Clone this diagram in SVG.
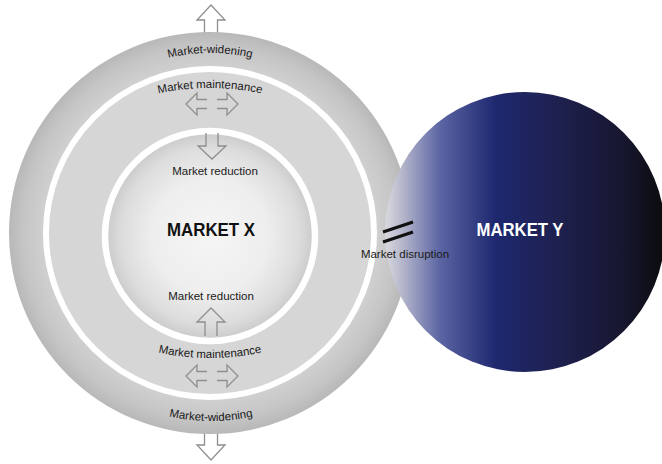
<svg xmlns="http://www.w3.org/2000/svg" width="662" height="464" viewBox="0 0 662 464">
  <defs>
    <radialGradient id="outerGrad" gradientUnits="userSpaceOnUse" cx="210" cy="233" r="201">
      <stop offset="0.8" stop-color="#d3d3d3"/>
      <stop offset="0.93" stop-color="#c5c5c5"/>
      <stop offset="1" stop-color="#b8b8b8"/>
    </radialGradient>
    <radialGradient id="innerGrad" gradientUnits="userSpaceOnUse" cx="210" cy="236" r="105">
      <stop offset="0" stop-color="#f5f5f5"/>
      <stop offset="0.55" stop-color="#eeeeee"/>
      <stop offset="0.85" stop-color="#dcdcdc"/>
      <stop offset="1" stop-color="#c9c9c9"/>
    </radialGradient>
    <linearGradient id="yGrad" gradientUnits="userSpaceOnUse" x1="385" y1="0" x2="662" y2="0">
      <stop offset="0" stop-color="#dadadf"/>
      <stop offset="0.07" stop-color="#b0b2c9"/>
      <stop offset="0.2" stop-color="#5b64a3"/>
      <stop offset="0.4" stop-color="#1d286f"/>
      <stop offset="0.6" stop-color="#1f2152"/>
      <stop offset="0.85" stop-color="#171731"/>
      <stop offset="1" stop-color="#0c0c10"/>
    </linearGradient>
    <path id="arcTopW" d="M30,233 A180,180 0 0 1 390,233"/>
    <path id="arcTopM" d="M-40,338 A250,250 0 0 1 460,338"/>
    <path id="arcBotM" d="M-40,108 A250,250 0 0 0 460,108"/>
    <path id="arcBotW" d="M11,221 A200,200 0 0 0 411,221"/>
    <style>
      .lbl { font-family: "Liberation Sans", Arial, sans-serif; font-size: 11.5px; fill: #1a1a1a; }
      .big { font-family: "Liberation Sans", Arial, sans-serif; font-size: 18px; font-weight: bold; }
      .arr { fill: none; stroke: #8e8e8e; stroke-width: 1.3; stroke-linejoin: miter; }
      .arrw { fill: #ffffff; stroke: #8e8e8e; stroke-width: 1.3; }
    </style>
  </defs>

  <g id="arrows-outer">
    <path class="arrw" d="M204.5,38 V20 H197 L211,5 L225,20 H217.5 V38"/>
    <path class="arrw" d="M204.5,430 V445 H197 L211,460 L225,445 H217.5 V430"/>
  </g>

  <g id="market-x">
    <circle cx="210" cy="233" r="201" fill="url(#outerGrad)"/>
    <circle cx="210" cy="233" r="164" fill="#d6d6d6" stroke="#ffffff" stroke-width="6"/>
    <circle cx="210" cy="236" r="105" fill="url(#innerGrad)" stroke="#ffffff" stroke-width="6.5"/>
    <text class="big" x="211" y="236" text-anchor="middle" fill="#111111" textLength="88" lengthAdjust="spacingAndGlyphs">MARKET X</text>
  </g>

  <g id="market-y">
    <circle cx="525" cy="232" r="140" fill="url(#yGrad)"/>
    <text class="big" x="520" y="236" text-anchor="middle" fill="#ffffff" textLength="87" lengthAdjust="spacingAndGlyphs">MARKET Y</text>
  </g>

  <g id="connectors">
    <path class="arr" d="M206,133 V146 H198 L212,159 L226,146 H218 V133"/>
    <path class="arr" d="M205,336 V322 H197 L211,308 L225,322 H217 V336"/>
    <path class="arr" d="M207,99.5 H197 V93 L186,104 L197,115 V108.5 H207"/>
    <path class="arr" d="M217,99.5 H227 V93 L238,104 L227,115 V108.5 H217"/>
    <path class="arr" d="M207,371.5 H197 V365 L186,376 L197,387 V380.5 H207"/>
    <path class="arr" d="M217,371.5 H227 V365 L238,376 L227,387 V380.5 H217"/>
    <g stroke="#111111" stroke-width="3" stroke-linecap="butt">
      <line x1="383" y1="232" x2="413" y2="222"/>
      <line x1="383" y1="242" x2="413" y2="232"/>
    </g>
  </g>

  <g id="labels">
    <text class="lbl" text-anchor="middle"><textPath href="#arcTopW" startOffset="50%">Market-widening</textPath></text>
    <text class="lbl" text-anchor="middle"><textPath href="#arcTopM" startOffset="50%">Market maintenance</textPath></text>
    <text class="lbl" x="215" y="175" text-anchor="middle">Market reduction</text>
    <text class="lbl" x="211" y="300" text-anchor="middle">Market reduction</text>
    <text class="lbl" text-anchor="middle"><textPath href="#arcBotM" startOffset="50%">Market maintenance</textPath></text>
    <text class="lbl" text-anchor="middle"><textPath href="#arcBotW" startOffset="50%">Market-widening</textPath></text>
    <text class="lbl" x="405" y="258" text-anchor="middle">Market disruption</text>
  </g>
</svg>
